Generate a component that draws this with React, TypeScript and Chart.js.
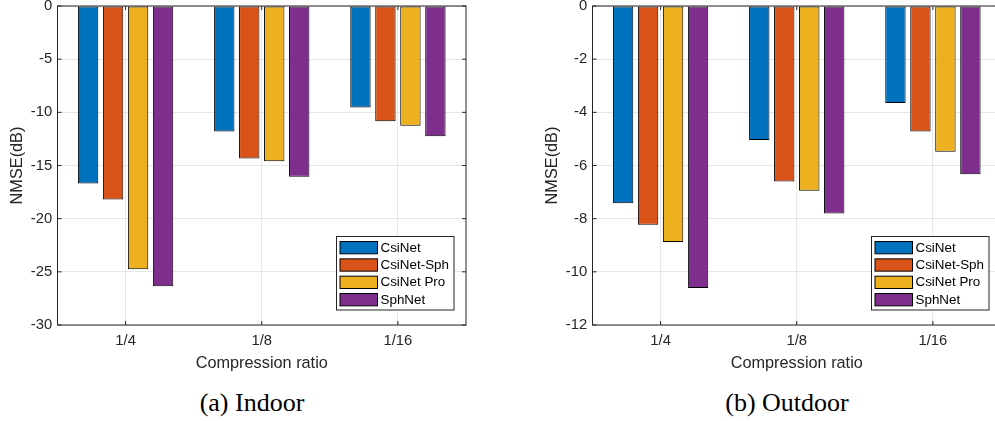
import React, { useEffect, useRef } from "react";
import { Chart, registerables } from "chart.js";

Chart.register(...registerables);

const categories = ["1/4", "1/8", "1/16"];
const seriesNames = ["CsiNet", "CsiNet-Sph", "CsiNet Pro", "SphNet"];
const seriesColors = ["#0072BD", "#D95319", "#EDB120", "#7E2F8E"];

const indoorCsiNet = [-16.7, -11.8, -9.55];
const indoorCsiNetSph = [-18.2, -14.35, -10.85];
const indoorCsiNetPro = [-24.75, -14.6, -11.25];
const indoorSphNet = [-26.35, -16.05, -12.25];

const outdoorCsiNet = [-7.42, -5.04, -3.65];
const outdoorCsiNetSph = [-8.23, -6.6, -4.72];
const outdoorCsiNetPro = [-8.88, -6.95, -5.48];
const outdoorSphNet = [-10.61, -7.81, -6.33];

const indoorRange = { min: -30, max: 0, step: 5 };
const outdoorRange = { min: -12, max: 0, step: 2 };

const xTitle = "Compression ratio";
const yTitle = "NMSE(dB)";

const AXIS = "#262626";
const GRID = "#e6e6e6";
const SANS = "'Liberation Sans', Arial, Helvetica, sans-serif";

const framePlugin = {
  id: "frame",
  afterDatasetsDraw(chart: any) {
    const { ctx, chartArea: a, scales } = chart;
    ctx.save();
    ctx.lineWidth = 1;
    ctx.strokeStyle = AXIS;
    const line = (x1: number, y1: number, x2: number, y2: number) => {
      ctx.beginPath();
      ctx.moveTo(x1, y1);
      ctx.lineTo(x2, y2);
      ctx.stroke();
    };
    ctx.strokeRect(a.left, a.top, a.right - a.left, a.bottom - a.top);
    scales.y.ticks.forEach((_t: any, i: number) => {
      const p = scales.y.getPixelForTick(i);
      line(a.left, p, a.left + 4, p);
      line(a.right, p, a.right - 4, p);
    });
    scales.x.ticks.forEach((_t: any, i: number) => {
      const p = scales.x.getPixelForTick(i);
      line(p, a.bottom, p, a.bottom - 4);
      line(p, a.top, p, a.top + 4);
    });
    ctx.restore();
  },
  afterDraw(chart: any) {
    const { ctx, chartArea: a } = chart;
    const w = 117.5;
    const h = 73.5;
    const left = a.right - 12 - w;
    const top = a.bottom - 15 - h;
    ctx.save();
    ctx.fillStyle = "#ffffff";
    ctx.fillRect(left, top, w, h);
    ctx.strokeStyle = AXIS;
    ctx.lineWidth = 1;
    ctx.strokeRect(left, top, w, h);
    ctx.font = `13.4px ${SANS}`;
    ctx.textBaseline = "middle";
    ctx.textAlign = "left";
    chart.data.datasets.forEach((ds: any, i: number) => {
      const sy = top + 5 + i * 17.35;
      ctx.fillStyle = ds.backgroundColor;
      ctx.fillRect(left + 3.5, sy, 37.5, 12.3);
      ctx.strokeStyle = "#000";
      ctx.strokeRect(left + 3.5, sy, 37.5, 12.3);
      ctx.fillStyle = "#000";
      ctx.fillText(ds.label, left + 44, sy + 6.6);
    });
    ctx.restore();
  },
};

function BarPanel(props: {
  left: number;
  series: number[][];
  range: { min: number; max: number; step: number };
  caption: string;
  captionCenter: number;
}) {
  const ref = useRef<HTMLCanvasElement | null>(null);
  useEffect(() => {
    if (!ref.current) return;
    const chart = new Chart(ref.current, {
      type: "bar",
      data: {
        labels: categories,
        datasets: props.series.map((vals, i) => ({
          label: seriesNames[i],
          data: vals,
          backgroundColor: seriesColors[i],
          borderColor: "#000000",
          borderWidth: 1,
          borderSkipped: false,
          categoryPercentage: 0.734,
          barPercentage: 0.816,
        })),
      },
      options: {
        responsive: false,
        animation: false,
        devicePixelRatio: 1,
        layout: { padding: { left: 0, top: 6, right: 14, bottom: 0 } },
        plugins: { legend: { display: false }, tooltip: { enabled: false } },
        scales: {
          x: {
            offset: true,
            grid: { color: GRID, offset: false, drawTicks: false, lineWidth: 1 },
            border: { display: false },
            ticks: { color: AXIS, font: { family: SANS, size: 14.8 }, padding: 7.5 },
            title: {
              display: true,
              text: xTitle,
              color: AXIS,
              font: { family: SANS, size: 16.3 },
              padding: { top: 0, bottom: 2.2 },
            },
            afterFit: (s: any) => {
              s.height = 50;
              s.paddingLeft = 0;
              s.paddingRight = 0;
            },
          },
          y: {
            min: props.range.min,
            max: props.range.max,
            grid: { color: GRID, drawTicks: false, lineWidth: 1 },
            border: { display: false },
            ticks: {
              stepSize: props.range.step,
              color: AXIS,
              font: { family: SANS, size: 14.8 },
              padding: 5.3,
            },
            title: {
              display: true,
              text: yTitle,
              color: AXIS,
              font: { family: SANS, size: 16.3 },
              padding: { top: 7.4, bottom: 0 },
            },
            afterFit: (s: any) => {
              s.width = 57.5;
              s.paddingTop = 0;
              s.paddingBottom = 0;
            },
          },
        },
      },
      plugins: [framePlugin],
    } as any);
    return () => chart.destroy();
  }, []);
  return (
    <>
      <canvas
        ref={ref}
        width={480}
        height={375}
        style={{ position: "absolute", left: props.left, top: 0, width: 480, height: 375 }}
      />
      <div
        style={{
          position: "absolute",
          left: props.captionCenter - 150,
          width: 300,
          top: 388,
          height: 30,
          lineHeight: "30px",
          textAlign: "center",
          fontFamily: "'Liberation Serif', 'Times New Roman', serif",
          fontSize: 26,
          color: "#000",
        }}
      >
        {props.caption}
      </div>
    </>
  );
}

export default function App() {
  return (
    <div
      style={{
        position: "fixed",
        left: 0,
        top: 0,
        width: 995,
        height: 421,
        overflow: "hidden",
        background: "#ffffff",
      }}
    >
      <BarPanel
        left={0}
        series={[indoorCsiNet, indoorCsiNetSph, indoorCsiNetPro, indoorSphNet]}
        range={indoorRange}
        caption="(a) Indoor"
        captionCenter={252}
      />
      <BarPanel
        left={535}
        series={[outdoorCsiNet, outdoorCsiNetSph, outdoorCsiNetPro, outdoorSphNet]}
        range={outdoorRange}
        caption="(b) Outdoor"
        captionCenter={787}
      />
    </div>
  );
}
